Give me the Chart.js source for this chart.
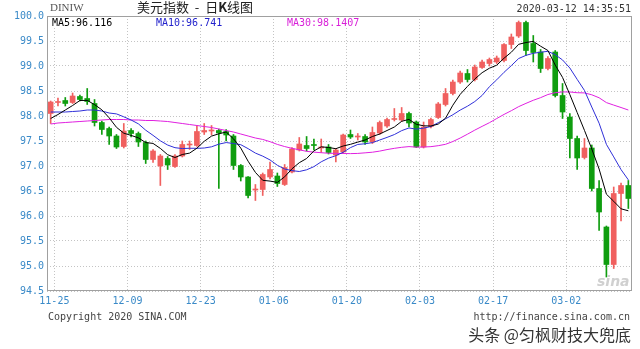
<!DOCTYPE html>
<html>
<head>
<meta charset="utf-8">
<script src="https://cdn.jsdelivr.net/npm/chart.js@4.4.0/dist/chart.umd.min.js"></script>
<style>
  html, body { margin: 0; padding: 0; background: #fff; }
  #wrap { position: relative; width: 640px; height: 349px; overflow: hidden; background: #fff; }
  #wrap canvas { position: absolute; left: 0; top: 0; }
  .txt { position: absolute; white-space: nowrap; line-height: 1; }
  .mono { font-family: "DejaVu Sans Mono", monospace; font-size: 10px; }
</style>
</head>
<body>
<div id="wrap">
  <canvas id="kChart" width="640" height="349"></canvas>
  <div class="txt" style="left:50px;top:2px;font-family:'Liberation Serif';font-size:11px;color:#555">DINIW</div>
  <div class="txt" style="left:137px;top:0px;font-family:'Noto Sans CJK SC';font-size:13px;color:#222">美元指数&nbsp; -&nbsp; 日<b>K</b>线图</div>
  <div class="txt mono" id="stamp" style="right:9px;top:4px;color:#333"></div>
  <div class="txt mono" id="ma5Txt" style="left:52px;top:18px;color:#000;background:#fff"></div>
  <div class="txt mono" id="ma10Txt" style="left:156px;top:18px;color:#2222cc;background:#fff"></div>
  <div class="txt mono" id="ma30Txt" style="left:287px;top:18px;color:#d81ed8;background:#fff"></div>
  <div class="txt" style="left:597px;top:274px;font-family:'DejaVu Sans';font-size:14px;font-style:italic;font-weight:bold;color:#d0d0d0">sina</div>
  <div class="txt mono" style="left:48px;top:312px;color:#444">Copyright 2020 SINA.COM</div>
  <div class="txt mono" style="right:10px;top:312px;color:#444">http://finance.sina.com.cn</div>
  <div class="txt" style="right:9px;top:326px;font-family:'Noto Sans CJK SC';font-size:16px;color:#333">头条 @匀枫财技大兜底</div>
</div>
<script>
// daily bars, 2019-11-22 .. 2020-03-12
const dates = [
  '11-22','11-25','11-26','11-27','11-28','11-29','12-02','12-03','12-04','12-05',
  '12-06','12-09','12-10','12-11','12-12','12-13','12-16','12-17','12-18','12-19',
  '12-20','12-23','12-24','12-25','12-26','12-27','12-30','12-31','01-01','01-02',
  '01-03','01-06','01-07','01-08','01-09','01-10','01-13','01-14','01-15','01-16',
  '01-17','01-20','01-21','01-22','01-23','01-24','01-27','01-28','01-29','01-30',
  '01-31','02-03','02-04','02-05','02-06','02-07','02-10','02-11','02-12','02-13',
  '02-14','02-17','02-18','02-19','02-20','02-21','02-24','02-25','02-26','02-27',
  '02-28','03-02','03-03','03-04','03-05','03-06','03-09','03-10','03-11','03-12'
];
const tickDates = ['11-25','12-09','12-23','01-06','01-20','02-03','02-17','03-02'];

const opens = [
  98.05,98.27,98.31,98.27,98.39,98.35,98.25,97.87,97.75,97.60,
  97.39,97.71,97.65,97.47,97.13,97.00,97.15,96.99,97.20,97.42,
  97.41,97.68,97.70,97.71,97.69,97.60,97.01,96.78,96.52,96.53,
  96.78,96.80,96.63,96.88,97.32,97.41,97.43,97.36,97.38,97.22,
  97.28,97.63,97.58,97.59,97.48,97.66,97.80,97.93,97.92,98.05,
  97.88,97.38,97.79,97.97,98.23,98.45,98.68,98.85,98.73,98.97,
  99.05,99.08,99.11,99.43,99.60,99.87,99.45,99.28,98.95,99.28,
  98.41,97.98,97.55,97.17,97.36,96.55,95.78,95.03,96.45,96.61
];
const highs = [
  98.30,98.36,98.37,98.46,98.42,98.55,98.33,97.90,97.78,97.63,
  97.85,97.75,97.68,97.50,97.33,97.23,97.19,97.23,97.50,97.50,
  97.81,97.85,97.81,97.74,97.73,97.63,97.03,96.79,96.63,96.86,
  97.08,96.86,97.03,97.37,97.57,97.59,97.54,97.54,97.43,97.35,
  97.64,97.72,97.65,97.63,97.78,97.90,97.96,98.15,98.17,98.08,
  97.90,97.88,97.96,98.27,98.55,98.72,98.90,98.93,99.02,99.12,
  99.16,99.20,99.45,99.64,99.90,99.90,99.61,99.33,99.19,99.31,
  98.65,98.05,97.60,97.55,97.42,96.71,95.80,96.58,96.66,96.71
];
const lows = [
  97.85,98.20,98.20,98.25,98.30,98.23,97.80,97.63,97.43,97.35,
  97.36,97.58,97.39,97.05,97.07,96.61,96.93,96.97,97.18,97.33,
  97.39,97.63,97.62,96.55,97.50,96.93,96.70,96.36,96.31,96.41,
  96.74,96.59,96.61,96.86,97.30,97.30,97.32,97.27,97.24,97.08,
  97.25,97.55,97.52,97.43,97.45,97.63,97.77,97.90,97.89,97.78,
  97.37,97.36,97.76,97.95,98.20,98.42,98.65,98.68,98.70,98.95,
  99.00,99.05,99.08,99.35,99.57,99.21,99.08,98.87,98.92,98.38,
  97.95,97.16,96.93,97.14,96.50,95.71,94.78,94.95,95.90,96.15
];
const closes = [
  98.28,98.29,98.25,98.40,98.33,98.29,97.87,97.73,97.60,97.38,
  97.70,97.65,97.48,97.13,97.30,97.20,97.02,97.20,97.43,97.44,
  97.69,97.71,97.72,97.66,97.62,97.01,96.78,96.41,96.54,96.83,
  96.93,96.65,96.97,97.34,97.44,97.35,97.41,97.38,97.27,97.32,
  97.62,97.58,97.60,97.48,97.67,97.87,97.93,97.95,98.05,97.86,
  97.38,97.78,97.93,98.24,98.45,98.68,98.86,98.73,98.98,99.08,
  99.13,99.16,99.43,99.58,99.87,99.31,99.27,98.95,99.15,98.41,
  98.08,97.55,97.16,97.36,96.55,96.08,95.03,96.45,96.61,96.35
];

// averages at the left edge come from bars before the window
const ma5Lead = [97.95, 98.03, 98.12, 98.21];
const ma10Lead = [98.08, 98.08, 98.08, 98.09, 98.10, 98.12, 98.12, 98.10, 98.06];
const ma30Lead = [
  97.84,97.86,97.87,97.88,97.89,97.90,97.91,97.92,97.93,97.93,
  97.93,97.92,97.92,97.91,97.91,97.90,97.89,97.87,97.85,97.83,
  97.81,97.79,97.77,97.74,97.71,97.68,97.64,97.60,97.56
];

const stamp = '2020-03-12 14:35:51';
const maLabels = { ma5: '96.116', ma10: '96.741', ma30: '98.1407' };

const yMin = 94.5, yMax = 100, yStep = 0.5;

document.getElementById('stamp').textContent = stamp;
document.getElementById('ma5Txt').textContent = 'MA5:' + maLabels.ma5;
document.getElementById('ma10Txt').textContent = 'MA10:' + maLabels.ma10;
document.getElementById('ma30Txt').textContent = 'MA30:' + maLabels.ma30;

function movingAverage(period, lead) {
  return closes.map((c, i) => {
    if (i < period - 1) return lead[i];
    let sum = 0;
    for (let k = i - period + 1; k <= i; k++) sum += closes[k];
    return sum / period;
  });
}

const upColor = '#f0605f';
const downColor = '#0f9d0f';
const axisBlue = '#3a8ac8';
const candleColors = closes.map((c, i) => c >= opens[i] ? upColor : downColor);

const framePlugin = {
  id: 'frame',
  afterDraw(chart) {
    const { ctx, chartArea: a } = chart;
    ctx.save();
    ctx.strokeStyle = '#a0a0a0';
    ctx.lineWidth = 1;
    ctx.strokeRect(Math.round(a.left) + 0.5, Math.round(a.top) + 0.5,
      Math.round(a.right - a.left) - 1, Math.round(a.bottom - a.top) - 1);
    ctx.restore();
  }
};

const ctx = document.getElementById('kChart');
new Chart(ctx, {
  type: 'bar',
  data: {
    labels: dates,
    datasets: [
      { type: 'line', data: movingAverage(5, ma5Lead), borderColor: '#000', borderWidth: 1, pointRadius: 0, order: 0 },
      { type: 'line', data: movingAverage(10, ma10Lead), borderColor: '#2f2fd8', borderWidth: 1, pointRadius: 0, order: 1 },
      { type: 'line', data: movingAverage(30, ma30Lead), borderColor: '#e020e0', borderWidth: 1, pointRadius: 0, order: 2 },
      {
        data: opens.map((o, i) => [o, closes[i]]),
        backgroundColor: candleColors,
        barThickness: 5, minBarLength: 1, grouped: false, order: 3
      },
      {
        data: lows.map((l, i) => [l, highs[i]]),
        backgroundColor: candleColors,
        barThickness: 1, grouped: false, order: 4
      }
    ]
  },
  options: {
    responsive: false,
    animation: false,
    devicePixelRatio: 1,
    layout: { padding: { top: 16, right: 8, left: 0, bottom: 0 } },
    plugins: { legend: { display: false }, tooltip: { enabled: false } },
    scales: {
      x: {
        offset: true,
        grid: {
          offset: true,
          drawTicks: false,
          color: c => tickDates.includes(dates[c.index]) ? '#c4c4c4' : 'rgba(0,0,0,0)'
        },
        border: { display: false, dash: [1, 2] },
        ticks: {
          autoSkip: false, maxRotation: 0, minRotation: 0, padding: 4, labelOffset: -3.6,
          color: axisBlue, font: { family: 'DejaVu Sans Mono', size: 10 },
          callback: (v, i) => tickDates.includes(dates[i]) ? dates[i] : ''
        },
        afterFit: s => { s.height = 58; }
      },
      y: {
        min: yMin, max: yMax,
        grid: { drawTicks: false, color: '#c4c4c4' },
        border: { display: false, dash: [1, 2] },
        ticks: {
          stepSize: yStep, padding: 3,
          color: axisBlue, font: { family: 'DejaVu Sans Mono', size: 10 },
          callback: v => v.toFixed(1)
        },
        afterFit: s => { s.width = 47; }
      }
    }
  },
  plugins: [framePlugin]
});
</script>
</body>
</html>
